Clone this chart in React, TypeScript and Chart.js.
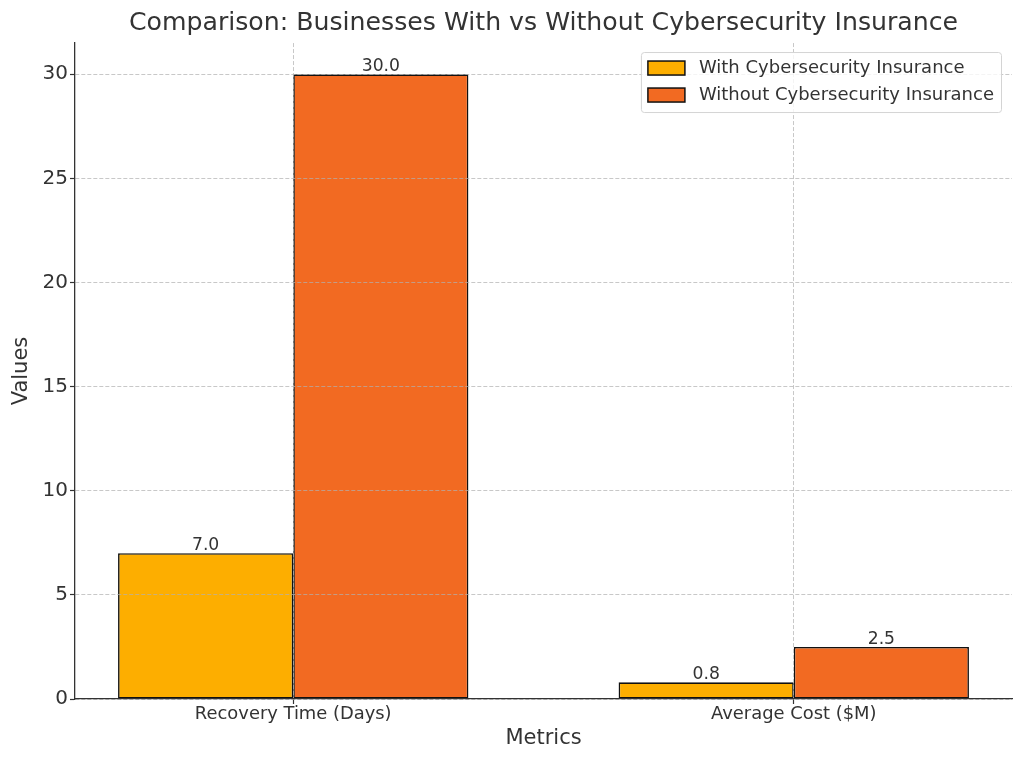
import React, { useEffect, useRef } from "react";
import { Chart, registerables } from "chart.js";

Chart.register(...registerables);

const FONT = "'DejaVu Sans', 'Liberation Sans', sans-serif";
const TEXT = "#333333";

const chartTitle = "Comparison: Businesses With vs Without Cybersecurity Insurance";
const xAxisTitle = "Metrics";
const yAxisTitle = "Values";
const categories = ["Recovery Time (Days)", "Average Cost ($M)"];
const categoryPositions = [0, 1];
const seriesNames = ["With Cybersecurity Insurance", "Without Cybersecurity Insurance"];
const withInsurance = [7.0, 0.8];
const withoutInsurance = [30.0, 2.5];
const seriesColors = ["#FDAE00", "#F26A22"];
const yTicks = [0, 5, 10, 15, 20, 25, 30];

const valueLabelsPlugin = {
  id: "valueLabels",
  afterDraw(chart: any) {
    const ctx = chart.ctx;
    ctx.save();
    ctx.font = `17.2px ${FONT}`;
    ctx.fillStyle = TEXT;
    ctx.textAlign = "center";
    ctx.textBaseline = "alphabetic";
    chart.data.datasets.forEach((ds: any, di: number) => {
      const meta = chart.getDatasetMeta(di);
      meta.data.forEach((bar: any, i: number) => {
        const v = ds.data[i].y as number;
        ctx.fillText(v.toFixed(1), bar.x, bar.y - 3);
      });
    });
    ctx.restore();
  },
};

const boxLegendPlugin = {
  id: "boxLegend",
  afterDraw(chart: any) {
    const ctx = chart.ctx;
    const area = chart.chartArea;
    ctx.save();
    ctx.font = `18px ${FONT}`;
    const textW = Math.max(...seriesNames.map((n) => ctx.measureText(n).width));
    const padL = 7;
    const patchW = 37;
    const patchH = 14;
    const gap = 14;
    const padR = 7;
    const w = padL + patchW + gap + textW + padR;
    const h = 60;
    const right = area.right - 11;
    const top = area.top + 9;
    const left = right - w;
    ctx.beginPath();
    (ctx as any).roundRect(left + 0.5, top + 0.5, w, h, 3);
    ctx.fillStyle = "rgba(255,255,255,0.8)";
    ctx.fill();
    ctx.strokeStyle = "#d4d4d4";
    ctx.lineWidth = 1;
    ctx.stroke();
    seriesNames.forEach((name, i) => {
      const cy = top + 16 + i * 27;
      ctx.fillStyle = seriesColors[i];
      ctx.fillRect(left + padL, cy - patchH / 2, patchW, patchH);
      ctx.strokeStyle = "#111111";
      ctx.lineWidth = 1.5;
      ctx.strokeRect(left + padL, cy - patchH / 2, patchW, patchH);
      ctx.fillStyle = TEXT;
      ctx.textAlign = "left";
      ctx.textBaseline = "middle";
      ctx.fillText(name, left + padL + patchW + gap, cy);
    });
    ctx.restore();
  },
};

export default function App() {
  const canvasRef = useRef<HTMLCanvasElement | null>(null);

  useEffect(() => {
    if (!canvasRef.current) return;
    Chart.defaults.font.family = FONT;
    const gridColor = "rgba(176,176,176,0.7)";
    const chart = new Chart(canvasRef.current, {
      type: "bar",
      data: {
        datasets: [
          {
            label: seriesNames[0],
            data: categoryPositions.map((x, i) => ({ x, y: withInsurance[i] })),
            backgroundColor: seriesColors[0],
            borderColor: "#111111",
            borderWidth: 1.6,
            borderSkipped: false,
          },
          {
            label: seriesNames[1],
            data: categoryPositions.map((x, i) => ({ x, y: withoutInsurance[i] })),
            backgroundColor: seriesColors[1],
            borderColor: "#111111",
            borderWidth: 1.6,
            borderSkipped: false,
          },
        ],
      },
      options: {
        animation: false,
        responsive: false,
        maintainAspectRatio: false,
        categoryPercentage: 0.7,
        barPercentage: 1,
        layout: { padding: { left: 0, right: 12, top: 0, bottom: 0 } },
        plugins: {
          legend: { display: false },
          tooltip: { enabled: false },
          title: {
            display: true,
            text: chartTitle,
            fullSize: false,
            color: TEXT,
            font: { size: 25.2, weight: "normal", family: FONT },
            padding: { top: 8.5, bottom: 4.3 },
          },
        },
        scales: {
          x: {
            type: "linear",
            min: -0.436,
            max: 1.436,
            offset: false,
            afterBuildTicks: (s: any) => {
              s.ticks = categoryPositions.map((v) => ({ value: v }));
            },
            afterFit: (s: any) => {
              s.height = 66;
            },
            grid: {
              offset: false,
              color: gridColor,
              lineWidth: 1,
              z: 1,
              tickLength: 5,
              tickColor: TEXT,
              tickWidth: 1.2,
            },
            border: { display: true, color: TEXT, width: 1.3, dash: [4, 2], z: 2 },
            ticks: {
              padding: 0,
              color: TEXT,
              autoSkip: false,
              maxRotation: 0,
              font: { size: 17.9, family: FONT },
              callback: (v: any) => {
                const idx = categoryPositions.indexOf(Number(v));
                return idx >= 0 ? categories[idx] : "";
              },
            },
            title: {
              display: true,
              text: xAxisTitle,
              color: TEXT,
              font: { size: 21, family: FONT },
              padding: { top: 0, bottom: 13.4 },
            },
          },
          y: {
            type: "linear",
            min: 0,
            max: 31.5,
            afterBuildTicks: (s: any) => {
              s.ticks = yTicks.map((v) => ({ value: v }));
            },
            afterFit: (s: any) => {
              s.width = 75;
            },
            grid: {
              color: gridColor,
              lineWidth: 1,
              z: 1,
              tickLength: 5,
              tickColor: TEXT,
              tickWidth: 1.2,
            },
            border: { display: true, color: TEXT, width: 1.3, dash: [4, 2], z: 2 },
            ticks: {
              padding: 2,
              color: TEXT,
              font: { size: 20, family: FONT },
            },
            title: {
              display: true,
              text: yAxisTitle,
              color: TEXT,
              font: { size: 21, family: FONT },
              padding: { top: 9.4, bottom: 0 },
            },
          },
        },
      } as any,
      plugins: [valueLabelsPlugin, boxLegendPlugin],
    });
    return () => chart.destroy();
  }, []);

  return (
    <div style={{ position: "absolute", left: 0, top: 0, width: 1024, height: 765, background: "#fff" }}>
      <canvas ref={canvasRef} width={1024} height={765} />
    </div>
  );
}
